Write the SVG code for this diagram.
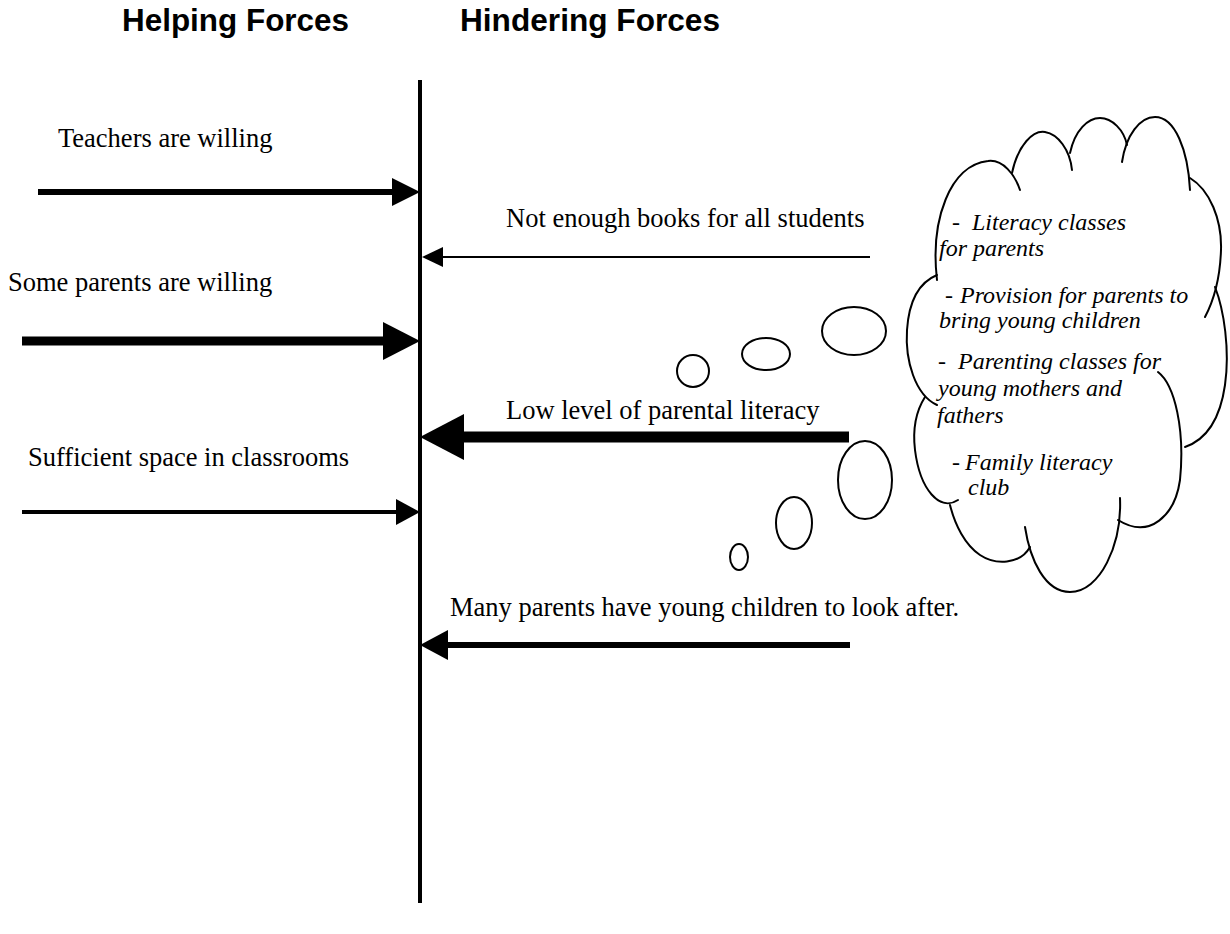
<svg xmlns="http://www.w3.org/2000/svg" width="1230" height="934" viewBox="0 0 1230 934">
  <style>
    .title { font-family: "Liberation Sans", Arial, sans-serif; font-weight: bold; font-size: 31px; fill: #000; }
    .force { font-family: "Liberation Serif", "Times New Roman", serif; font-size: 26.5px; fill: #000; }
    .idea { font-family: "Liberation Serif", "Times New Roman", serif; font-style: italic; font-size: 24px; fill: #000; }
    .shaft { stroke: #000; fill: none; }
    .head { fill: #000; stroke: none; }
    .bubble { fill: #fff; stroke: #000; stroke-width: 2; }
    .lobe { fill: none; stroke: #000; stroke-width: 2; stroke-linecap: round; }
  </style>
  <rect width="1230" height="934" fill="#fff"/>

  <!-- column headings -->
  <g id="headings">
    <text class="title" x="122" y="31" textLength="227" lengthAdjust="spacingAndGlyphs">Helping Forces</text>
    <text class="title" x="460" y="31" textLength="260" lengthAdjust="spacingAndGlyphs">Hindering Forces</text>
  </g>

  <!-- central axis -->
  <g id="axis">
    <line x1="420" y1="80" x2="420" y2="903" stroke="#000" stroke-width="4"/>
  </g>

  <!-- force labels -->
  <g id="help-teachers"><text class="force" x="58" y="147">Teachers are willing</text></g>
  <g id="help-parents"><text class="force" x="8" y="291">Some parents are willing</text></g>
  <g id="help-space"><text class="force" x="28" y="466">Sufficient space in classrooms</text></g>
  <g id="hinder-books"><text class="force" x="506" y="227">Not enough books for all students</text></g>
  <g id="hinder-literacy"><text class="force" x="506" y="419">Low level of parental literacy</text></g>
  <g id="hinder-children"><text class="force" x="450" y="616">Many parents have young children to look after.</text></g>

  <!-- force arrows -->
  <g id="connectors">
    <line class="shaft" x1="38" y1="192" x2="395" y2="192" stroke-width="6"/>
    <polygon class="head" points="420,192 392,178 392,206"/>

    <line class="shaft" x1="22" y1="341" x2="386" y2="341" stroke-width="9"/>
    <polygon class="head" points="420,341 383,322 383,360"/>

    <line class="shaft" x1="22" y1="512" x2="398" y2="512" stroke-width="4"/>
    <polygon class="head" points="420,512 396,499 396,525"/>

    <line class="shaft" x1="870" y1="257" x2="440" y2="257" stroke-width="2"/>
    <polygon class="head" points="422,257 443,247 443,267"/>

    <line class="shaft" x1="849" y1="437" x2="460" y2="437" stroke-width="11"/>
    <polygon class="head" points="420,437 464,414 464,460"/>

    <line class="shaft" x1="850" y1="645" x2="445" y2="645" stroke-width="6"/>
    <polygon class="head" points="420,645 448,630 448,660"/>
  </g>

  <!-- thought bubbles leading to the cloud -->
  <g id="bubbles">
    <ellipse class="bubble" cx="739" cy="557" rx="9" ry="13"/>
    <ellipse class="bubble" cx="794" cy="523" rx="18" ry="26"/>
    <ellipse class="bubble" cx="865" cy="480" rx="27" ry="39"/>
    <circle class="bubble" cx="693" cy="371" r="16"/>
    <ellipse class="bubble" cx="766" cy="354" rx="24" ry="16"/>
    <ellipse class="bubble" cx="854" cy="331" rx="32" ry="24"/>
  </g>

  <!-- cloud of possible actions -->
  <g id="cloud">
    <path class="lobe" d="M937,280 C930,220 950,165 988,161 C1003,159 1015,175 1020,190"/>
    <path class="lobe" d="M1012,173 C1018,145 1033,130 1045,132 C1058,134 1070,150 1072,170"/>
    <path class="lobe" d="M1070,153 C1075,130 1088,118 1100,118 C1112,118 1124,130 1127,145"/>
    <path class="lobe" d="M1122,162 C1126,135 1140,117 1155,117 C1175,117 1188,150 1190,190"/>
    <path class="lobe" d="M1190,178 C1210,190 1222,220 1221,250 C1220,280 1214,300 1205,317"/>
    <path class="lobe" d="M1215,287 C1224,310 1230,350 1225,385 C1220,420 1205,440 1185,447"/>
    <path class="lobe" d="M1158,372 C1175,385 1185,430 1180,480 C1175,515 1150,540 1118,520"/>
    <path class="lobe" d="M1120,498 C1122,545 1100,592 1070,592 C1045,592 1030,560 1025,527"/>
    <path class="lobe" d="M1030,547 C1020,565 995,565 980,555 C965,545 955,525 950,505"/>
    <path class="lobe" d="M958,500 C940,512 920,490 915,450 C912,425 918,408 925,397"/>
    <path class="lobe" d="M937,405 C915,395 905,360 907,330 C909,300 920,282 937,275"/>

    <text class="idea" x="952" y="230">-<tspan x="972">Literacy classes</tspan></text>
    <text class="idea" x="939" y="256">for parents</text>
    <text class="idea" x="945" y="303">-<tspan x="960">Provision for parents to</tspan></text>
    <text class="idea" x="939" y="328">bring young children</text>
    <text class="idea" x="938" y="369">-<tspan x="958">Parenting classes for</tspan></text>
    <text class="idea" x="938" y="396">young mothers and</text>
    <text class="idea" x="937" y="423">fathers</text>
    <text class="idea" x="952" y="470">-<tspan x="965">Family literacy</tspan></text>
    <text class="idea" x="968" y="495">club</text>
  </g>
</svg>
